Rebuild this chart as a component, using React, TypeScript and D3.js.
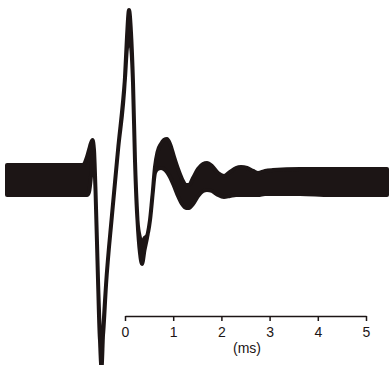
import React, { useEffect, useRef } from "react";
import * as d3 from "d3";

// trace envelope (time in ms, amplitude in relative units)
const timeMs = [
  -2.448, -1.66, -0.871, -0.788, -0.747, -0.705, -0.674, -0.643, -0.612, -0.56,
  -0.519, -0.488, -0.456, -0.394, -0.27, -0.145, 0, 0.041, 0.083, 0.124, 0.166,
  0.207, 0.259, 0.311, 0.353, 0.405, 0.456, 0.519, 0.571, 0.622, 0.674, 0.747,
  0.809, 0.871, 0.934, 1.017, 1.1, 1.183, 1.266, 1.328, 1.411, 1.515, 1.618,
  1.701, 1.805, 1.929, 2.054, 2.178, 2.303, 2.407, 2.531, 2.656, 2.759, 2.905,
  3.071, 3.631, 4.253, 4.876, 5.436,
];
const upper = [
  0.098, 0.098, 0.098, 0.145, 0.185, 0.225, 0.243, 0.185, -0.058, -0.578,
  -0.925, -0.954, -0.896, -0.607, -0.202, 0.173, 0.607, 0.838, 0.994, 0.867,
  0.578, 0.116, -0.22, -0.324, -0.364, -0.324, -0.312, -0.22, -0.087, 0.087,
  0.173, 0.22, 0.243, 0.249, 0.22, 0.145, 0.075, 0.017, -0.017, -0.017, 0.023,
  0.075, 0.104, 0.11, 0.092, 0.052, 0.035, 0.058, 0.081, 0.087, 0.081, 0.064,
  0.052, 0.064, 0.069, 0.075, 0.075, 0.075, 0.075,
];
const lower = [
  -0.098, -0.098, -0.098, -0.098, -0.081, 0.012, 0.127, 0.104, -0.058, -0.578,
  -0.925, -1.098, -0.896, -0.607, -0.202, 0.173, 0.578, 0.751, 0.798, 0.763,
  0.549, 0.116, -0.243, -0.434, -0.497, -0.416, -0.347, -0.243, -0.087, 0.029,
  0.052, 0.058, 0.052, 0.035, 0.006, -0.046, -0.104, -0.15, -0.173, -0.173,
  -0.15, -0.104, -0.075, -0.069, -0.075, -0.098, -0.11, -0.104, -0.098, -0.098,
  -0.098, -0.098, -0.098, -0.092, -0.092, -0.092, -0.098, -0.098, -0.098,
];
const tickMs = [0, 1, 2, 3, 4, 5];

const W = 390;
const H = 365;
const ink = "#1c1515";
const font = "'Liberation Sans', Arial, Helvetica, sans-serif";

const App = () => {
  const ref = useRef<SVGSVGElement>(null);

  useEffect(() => {
    const svg = d3.select(ref.current);
    svg.selectAll("*").remove();

    const x = d3.scaleLinear().domain([0, 5]).range([125, 366]);
    const y = d3.scaleLinear().domain([-1, 1]).range([353, 7]);

    const sw = 4;
    const rows = timeMs.map((t, i) => {
      let top = y(upper[i]) + sw / 2;
      let bot = y(lower[i]) - sw / 2;
      if (top > bot) {
        const m = (top + bot) / 2;
        top = m;
        bot = m;
      }
      return { t, top, bot };
    });

    const area = d3
      .area<{ t: number; top: number; bot: number }>()
      .x((d) => x(d.t))
      .y0((d) => d.bot)
      .y1((d) => d.top)
      .curve(d3.curveMonotoneX);

    svg
      .append("path")
      .attr("d", area(rows))
      .attr("fill", ink)
      .attr("stroke", ink)
      .attr("stroke-width", sw)
      .attr("stroke-linejoin", "round");

    const axis = d3
      .axisBottom(x)
      .tickValues(tickMs)
      .tickFormat(d3.format("d"))
      .tickSize(5)
      .tickSizeOuter(0)
      .tickPadding(6);

    const g = svg
      .append("g")
      .attr("transform", "translate(0,316)")
      .call(axis);
    g.select(".domain").attr("stroke", ink).attr("stroke-width", 1.5);
    g.selectAll(".tick line").attr("stroke", ink).attr("stroke-width", 1.5);
    g.selectAll(".tick text")
      .attr("fill", ink)
      .style("font-family", font)
      .style("font-size", "14px");

    svg
      .append("text")
      .attr("x", 247)
      .attr("y", 353)
      .attr("text-anchor", "middle")
      .attr("fill", ink)
      .style("font-family", font)
      .style("font-size", "14px")
      .text("(ms)");
  }, []);

  return (
    <svg
      ref={ref}
      width={W}
      height={H}
      style={{ position: "absolute", left: 0, top: 0, background: "#fff" }}
    />
  );
};

export default App;
